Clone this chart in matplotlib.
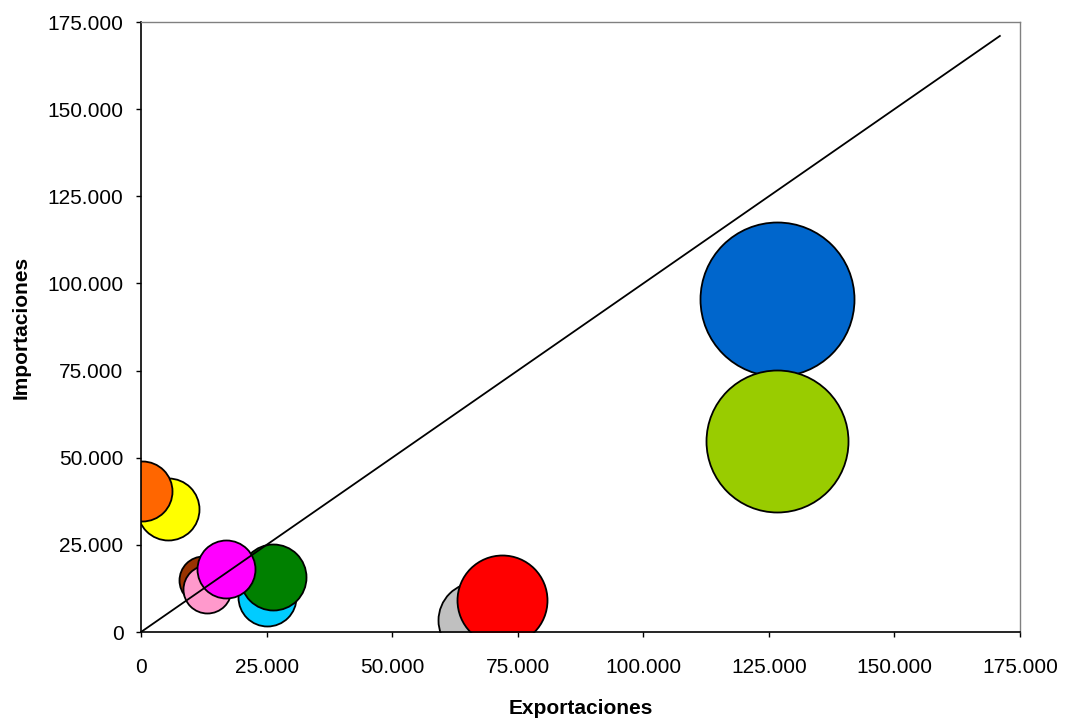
import matplotlib
matplotlib.use("Agg")
import matplotlib.pyplot as plt
from matplotlib.ticker import FuncFormatter

# Data (exportaciones, importaciones, tamaño relativo de burbuja)
colores = ["#C0C0C0", "#FF0000", "#0066CC", "#99CC00", "#FFFF00", "#FF6600",
           "#993300", "#FF99CC", "#00CCFF", "#008000", "#FF00FF"]
exportaciones = [66700, 71900, 126600, 126600, 5400, 200, 12300, 13100, 25100, 26300, 16900]
importaciones = [3400, 9200, 95500, 54800, 35300, 40400, 14900, 12300, 10000, 15800, 18100]
tamanos = [1444, 2025, 5929, 5041, 961, 900, 576, 576, 841, 1089, 841]

diag_x = [0, 171000]
diag_y = [0, 171000]

ticks = [0, 25000, 50000, 75000, 100000, 125000, 150000, 175000]

plt.rcParams['font.family'] = ['Liberation Sans', 'DejaVu Sans']

dpi = 100
fig = plt.figure(figsize=(10.66, 7.19), dpi=dpi)
ax = fig.add_axes([0.1323, 0.1210, 0.8245, 0.8484])

scale = (1.44 * 100 / dpi) ** 2
for x, y, s, c in zip(exportaciones, importaciones, tamanos, colores):
    ax.scatter([x], [y], s=s * scale, c=c, edgecolors="black", linewidths=1.3, zorder=2)

ax.plot(diag_x, diag_y, color="black", linewidth=1.3, zorder=3)

ax.set_xlim(0, 175000)
ax.set_ylim(0, 175000)
ax.set_xticks(ticks)
ax.set_yticks(ticks)
fmt = FuncFormatter(lambda v, p: f"{int(v):,}".replace(",", "."))
ax.xaxis.set_major_formatter(fmt)
ax.yaxis.set_major_formatter(fmt)
ax.tick_params(axis="both", direction="out", length=3.6, width=1, labelsize=15, colors="black")
ax.tick_params(axis="x", pad=15)
ax.tick_params(axis="y", pad=9)

for side in ["left", "bottom"]:
    ax.spines[side].set_color("black")
    ax.spines[side].set_linewidth(1.2)
for side in ["top", "right"]:
    ax.spines[side].set_color("#808080")
    ax.spines[side].set_linewidth(1.0)

ax.set_xlabel("Exportaciones", fontsize=15, fontweight="bold", labelpad=16)
ax.set_ylabel("Importaciones", fontsize=15, fontweight="bold", labelpad=12)

fig.savefig("out.png", dpi=dpi)
